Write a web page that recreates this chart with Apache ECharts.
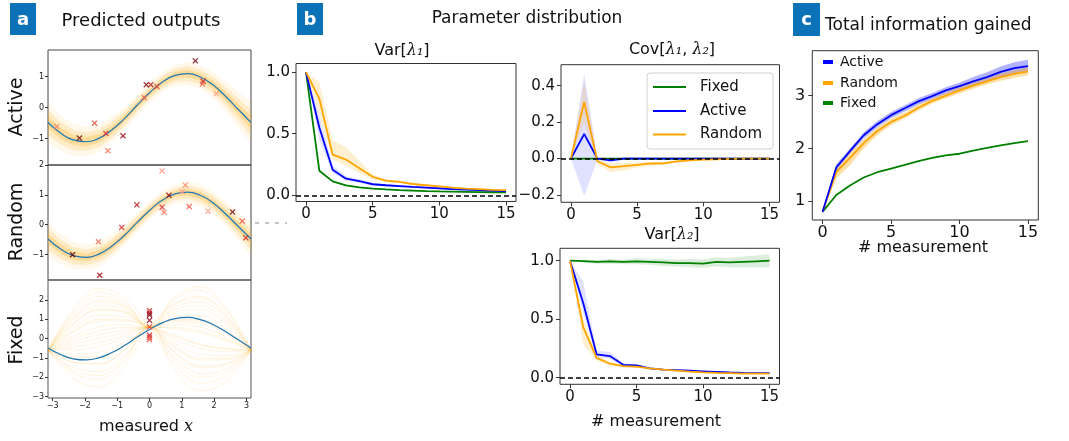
<!DOCTYPE html>
<html>
<head>
<meta charset="utf-8">
<script src="https://cdn.jsdelivr.net/npm/echarts@6/dist/echarts.min.js"></script>
<style>
  html, body { margin: 0; background: #fff; }
  #chart { width: 1069px; height: 441px; }
</style>
</head>
<body>
<div id="chart"></div>
<script>
// ---- panel a: predicted outputs ------------------------------------------
const curveX = [-3.1416, -2.75, -2.36, -1.96, -1.57, -1.18, -0.79, -0.39, 0, 0.39, 0.79, 1.18, 1.57, 1.96, 2.36, 2.75, 3.1416];
const trueY = [-0.48, -0.82, -1.04, -1.10, -0.99, -0.73, -0.37, 0.07, 0.48, 0.82, 1.04, 1.10, 0.99, 0.74, 0.36, -0.06, -0.48];
// half width of the posterior sample haze around the true curve
const activeSpread = [0.34, 0.3, 0.27, 0.25, 0.24, 0.22, 0.2, 0.18, 0.17, 0.17, 0.18, 0.2, 0.2, 0.22, 0.25, 0.3, 0.36];
const randomSpread = [0.3, 0.27, 0.24, 0.22, 0.22, 0.21, 0.19, 0.17, 0.16, 0.16, 0.17, 0.19, 0.2, 0.2, 0.22, 0.25, 0.3];

const fixedX = [-3.1416, -2.36, -1.57, -0.79, 0, 0.79, 1.57, 2.36, 3.1416];
const fixedSamples = [
  [-0.6, 1.54, 2.6, 2.14, 0.6, -1.33, -2.3, -1.93, -0.6],
  [-0.6, 1.03, 1.9, 1.63, 0.6, 2.07, 2.5, 1.47, -0.6],
  [-0.6, 0.54, 1.2, 1.14, 0.6, -0.76, -1.5, -1.36, -0.6],
  [-0.6, 0.12, 0.6, 0.72, 0.6, 1.0, 1.0, 0.41, -0.6],
  [-0.6, -0.58, -0.4, 0.02, 0.6, 0.51, 0.3, -0.09, -0.6],
  [-0.6, -1.0, -1.0, -0.4, 0.6, -0.26, -0.8, -0.87, -0.6],
  [-0.6, -1.49, -1.7, -0.89, 0.6, 1.49, 1.7, 0.89, -0.6],
  [-0.6, -2.05, -2.5, -1.45, 0.6, 1.84, 2.2, 1.24, -0.6],
  [-0.6, 1.24, 2.2, 1.84, 0.6, 0.58, 0.4, -0.02, -0.6],
  [-0.6, -0.16, 0.2, 0.44, 0.6, -1.61, -2.7, -2.21, -0.6],
  [-0.6, -1.77, -2.1, -1.17, 0.6, -0.48, -1.1, -1.08, -0.6],
  [-0.6, 0.4, 1.0, 1.0, 0.6, 1.64, 1.9, 1.04, -0.6],
  [-0.6, -0.3, 0.0, 0.3, 0.6, -0.05, -0.5, -0.65, -0.6],
  [-0.6, 1.38, 2.4, 1.98, 0.6, 1.15, 1.2, 0.54, -0.6],
  [-0.6, -1.21, -1.3, -0.62, 0.6, -1.11, -2.0, -1.71, -0.6],
  [-0.6, 0.75, 1.5, 1.4, 0.6, 0.2, -0.3, -0.5, -0.6],
  [-0.6, 0.76, 1.5, 1.36, 0.6, 0.87, 0.8, 0.27, -0.6],
  [-0.6, -0.79, -0.7, -0.19, 0.6, 1.78, 2.1, 1.19, -0.6],
  [-0.6, 0.34, 0.9, 0.93, 0.6, -0.41, -1.0, -1.01, -0.6],
  [-0.6, -1.21, -1.3, -0.62, 0.6, 0.72, 0.6, 0.12, -0.6],
  [-0.6, 1.11, 2.0, 1.71, 0.6, -0.97, -1.8, -1.57, -0.6],
  [-0.6, -0.44, -0.2, 0.16, 0.6, -0.69, -1.4, -1.29, -0.6],
  [-0.6, -0.02, 0.4, 0.58, 0.6, 2.21, 2.7, 1.61, -0.6],
  [-0.6, -1.64, -1.9, -1.03, 0.6, 0.09, -0.3, -0.51, -0.6],
  [-0.6, 0.9, 1.7, 1.5, 0.6, 1.36, 1.5, 0.76, -0.6],
  [-0.6, -0.93, -0.9, -0.34, 0.6, 0.94, 0.9, 0.34, -0.6]
];

// measured points: [x, y, order shade 0 (early, light) .. 1 (late, dark)]
const activePts = [
  [-2.87, -0.61, 0.15], [-2.17, -0.98, 0.95], [-1.70, -0.50, 0.4], [-1.35, -0.83, 0.5],
  [-1.29, -1.39, 0.2], [-0.82, -0.91, 0.85], [-0.16, 0.32, 0.3], [-0.10, 0.74, 0.9],
  [0.04, 0.74, 0.7], [0.23, 0.68, 0.45], [1.42, 1.51, 0.95], [1.66, 0.85, 0.65],
  [1.64, 0.76, 0.3], [2.07, 0.46, 0.05]
];
const randomPts = [
  [0.39, 1.81, 0.1], [1.11, 1.33, 0.12], [1.01, 1.11, 0.05], [0.60, 0.99, 0.85],
  [-0.39, 0.67, 0.7], [0.39, 0.59, 0.55], [0.45, 0.42, 0.2], [1.23, 0.61, 0.35],
  [1.81, 0.45, 0.05], [-0.86, -0.09, 0.55], [-1.58, -0.57, 0.25], [-2.38, -1.01, 1.0],
  [-1.54, -1.70, 0.8], [2.57, 0.43, 0.95], [2.87, 0.12, 0.35], [2.98, -0.44, 0.6]
];
const fixedPts = [
  [0, 1.45, 0.6], [0, 1.32, 0.8], [0, 1.22, 0.9], [0, 0.95, 0.85],
  [0, 0.62, 0.4], [0, 0.18, 0.7], [0, 0.06, 0.5], [0, -0.05, 0.35]
];

// ---- panel b: parameter distribution -------------------------------------
const steps = [0, 1, 2, 3, 4, 5, 6, 7, 8, 9, 10, 11, 12, 13, 14, 15];

const var1Fixed  = [1.0, 0.2, 0.113, 0.08, 0.065, 0.055, 0.048, 0.043, 0.039, 0.035, 0.032, 0.03, 0.028, 0.026, 0.025, 0.024];
const var1Active = [1.0, 0.55, 0.207, 0.135, 0.115, 0.09, 0.082, 0.075, 0.068, 0.062, 0.056, 0.05, 0.046, 0.042, 0.038, 0.035];
const var1Random = [1.0, 0.785, 0.33, 0.29, 0.22, 0.15, 0.12, 0.11, 0.092, 0.082, 0.072, 0.062, 0.055, 0.05, 0.045, 0.042];
const var1ActiveLo = [1.0, 0.45, 0.18, 0.12, 0.1, 0.08, 0.072, 0.066, 0.06, 0.054, 0.049, 0.044, 0.041, 0.037, 0.034, 0.031];
const var1ActiveHi = [1.0, 0.65, 0.245, 0.155, 0.13, 0.1, 0.092, 0.084, 0.076, 0.07, 0.063, 0.056, 0.051, 0.047, 0.043, 0.039];
const var1RandomLo = [1.0, 0.65, 0.29, 0.24, 0.18, 0.13, 0.105, 0.1, 0.085, 0.075, 0.065, 0.056, 0.05, 0.045, 0.04, 0.037];
const var1RandomHi = [1.0, 0.92, 0.45, 0.39, 0.28, 0.17, 0.13, 0.12, 0.1, 0.09, 0.08, 0.068, 0.06, 0.055, 0.05, 0.047];

const covFixed  = [0, 0, 0, 0, 0, 0, 0, 0, 0, 0, 0, 0, 0, 0, 0, 0];
const covActive = [0, 0.135, 0.0, -0.01, 0.0, 0, 0, 0, 0, 0, 0, 0, 0, 0, 0, 0];
const covRandom = [0, 0.31, -0.015, -0.048, -0.042, -0.035, -0.027, -0.026, -0.015, -0.01, -0.006, -0.004, -0.002, 0, 0, 0];
const covActiveLo = [0, -0.205, -0.006, -0.02, -0.008, -0.005, -0.004, -0.003, -0.002, -0.002, -0.001, -0.001, -0.001, 0, 0, 0];
const covActiveHi = [0, 0.465, 0.006, 0.004, 0.006, 0.005, 0.004, 0.003, 0.002, 0.002, 0.001, 0.001, 0.001, 0, 0, 0];
const covRandomLo = [0, 0.2, -0.03, -0.075, -0.065, -0.05, -0.04, -0.035, -0.022, -0.015, -0.01, -0.007, -0.004, -0.002, -0.001, -0.001];
const covRandomHi = [0, 0.42, -0.005, -0.025, -0.025, -0.022, -0.017, -0.017, -0.008, -0.005, -0.002, -0.001, 0, 0.001, 0.001, 0.001];

const var2Fixed  = [1.0, 0.997, 0.99, 0.995, 0.99, 0.995, 0.99, 0.985, 0.98, 0.98, 0.975, 0.99, 0.985, 0.99, 0.995, 1.0];
const var2Active = [1.0, 0.636, 0.2, 0.185, 0.11, 0.105, 0.08, 0.07, 0.065, 0.06, 0.055, 0.05, 0.045, 0.042, 0.04, 0.04];
const var2Random = [1.0, 0.43, 0.17, 0.12, 0.1, 0.095, 0.08, 0.07, 0.06, 0.052, 0.046, 0.042, 0.04, 0.036, 0.035, 0.035];
const var2FixedLo  = [1.0, 0.985, 0.975, 0.975, 0.97, 0.97, 0.965, 0.955, 0.95, 0.945, 0.94, 0.95, 0.945, 0.945, 0.945, 0.945];
const var2FixedHi  = [1.0, 1.01, 1.005, 1.015, 1.01, 1.02, 1.015, 1.015, 1.01, 1.015, 1.01, 1.03, 1.025, 1.035, 1.045, 1.055];
const var2ActiveLo = [1.0, 0.55, 0.18, 0.16, 0.1, 0.095, 0.075, 0.065, 0.06, 0.055, 0.05, 0.046, 0.042, 0.039, 0.037, 0.037];
const var2ActiveHi = [1.0, 0.82, 0.23, 0.22, 0.125, 0.115, 0.088, 0.077, 0.07, 0.065, 0.06, 0.055, 0.05, 0.046, 0.044, 0.044];
const var2RandomLo = [1.0, 0.28, 0.15, 0.105, 0.09, 0.085, 0.072, 0.063, 0.055, 0.047, 0.042, 0.038, 0.036, 0.033, 0.032, 0.032];
const var2RandomHi = [1.0, 0.5, 0.2, 0.135, 0.11, 0.105, 0.088, 0.077, 0.066, 0.057, 0.05, 0.046, 0.044, 0.04, 0.038, 0.038];

// ---- panel c: total information gained -----------------------------------
const infoActive = [0.8, 1.64, 1.95, 2.25, 2.46, 2.63, 2.76, 2.89, 2.99, 3.1, 3.18, 3.27, 3.35, 3.45, 3.52, 3.56];
const infoRandom = [0.8, 1.55, 1.82, 2.1, 2.33, 2.5, 2.62, 2.77, 2.9, 3.0, 3.1, 3.19, 3.27, 3.35, 3.41, 3.46];
const infoFixed  = [0.8, 1.12, 1.3, 1.45, 1.55, 1.62, 1.69, 1.76, 1.82, 1.87, 1.9, 1.96, 2.01, 2.06, 2.1, 2.14];
const infoActiveLo = [0.8, 1.58, 1.9, 2.19, 2.4, 2.57, 2.7, 2.83, 2.93, 3.03, 3.11, 3.19, 3.26, 3.35, 3.41, 3.44];
const infoActiveHi = [0.8, 1.7, 2.0, 2.3, 2.52, 2.69, 2.82, 2.95, 3.05, 3.16, 3.25, 3.35, 3.44, 3.55, 3.63, 3.68];
const infoRandomLo = [0.8, 1.43, 1.68, 2.0, 2.25, 2.44, 2.57, 2.72, 2.85, 2.95, 3.04, 3.13, 3.21, 3.28, 3.34, 3.38];
const infoRandomHi = [0.8, 1.62, 1.92, 2.18, 2.4, 2.56, 2.68, 2.83, 2.95, 3.06, 3.16, 3.25, 3.33, 3.42, 3.48, 3.54];

const ticksA1 = [-1, 0, 1];
const ticksA2 = [-1, 0, 1, 2];
const ticksA3 = [-3, -2, -1, 0, 1, 2];
const ticksAx = [-3, -2, -1, 0, 1, 2, 3];
const ticksStep = [0, 5, 10, 15];
const ticksVar = [0, 0.5, 1];
const ticksCov = [-0.2, 0, 0.2, 0.4];
const ticksInfo = [1, 2, 3];

// ---------------------------------------------------------------------------
const FONT = 'DejaVu Sans';
const GREEN = '#008000', BLUE = '#0000ff', ORANGE = '#ffa500', TRUE_C = '#1f77b4';
const BOX = '#0b72b8';
const REDS = ['#fcaa96', '#fb7b5e', '#f5553c', '#e0302a', '#c0161c', '#99000d', '#5a000a'];

const chart = echarts.init(document.getElementById('chart'), null, { renderer: 'canvas' });

const minus = (s) => String(s).replace('-', '\u2212');

function grid(left, top, width, height, border) {
  return { left, top, width, height, show: true, borderColor: border || '#333', borderWidth: 1, backgroundColor: 'transparent', containLabel: false };
}

function axis(gridIndex, min, max, ticks, opts) {
  const o = opts || {};
  return {
    type: 'value', gridIndex, min, max,
    axisLine: { show: false, onZero: false },
    splitLine: { show: false },
    axisTick: { show: o.show !== false, length: o.tick || 4, customValues: ticks, lineStyle: { color: '#333', width: 1 } },
    axisLabel: {
      show: o.show !== false, customValues: ticks, fontFamily: FONT, fontSize: o.size || 15,
      color: o.color || '#111', margin: o.margin || 6,
      formatter: o.fmt || ((v) => minus(v))
    }
  };
}

function shade(t) {
  const p = Math.max(0, Math.min(1, t)) * (REDS.length - 1);
  const i = Math.min(REDS.length - 2, Math.floor(p));
  const f = p - i;
  const a = echarts.color.parse(REDS[i]), b = echarts.color.parse(REDS[i + 1]);
  return `rgb(${Math.round(a[0] + (b[0] - a[0]) * f)},${Math.round(a[1] + (b[1] - a[1]) * f)},${Math.round(a[2] + (b[2] - a[2]) * f)})`;
}

function line(g, xs, ys, color, width, extra) {
  return Object.assign({
    type: 'line', xAxisIndex: g, yAxisIndex: g,
    data: xs.map((x, i) => [x, ys[i]]),
    symbol: 'none', showSymbol: false, silent: true,
    lineStyle: { color, width }, itemStyle: { color }, z: 3
  }, extra || {});
}

function band(g, xs, lo, hi, color, opacity) {
  return {
    type: 'custom', xAxisIndex: g, yAxisIndex: g, data: [[xs[0], lo[0]]], clip: true, silent: true, z: 1,
    renderItem: (params, api) => {
      const top = xs.map((x, i) => api.coord([x, hi[i]]));
      const bottom = xs.map((x, i) => api.coord([x, lo[i]])).reverse();
      return { type: 'polygon', shape: { points: top.concat(bottom) }, style: { fill: color, opacity } };
    }
  };
}

function zeroLine() {
  return {
    silent: true, symbol: 'none', animation: false,
    label: { show: false },
    lineStyle: { type: [5, 3], color: '#000', width: 1.5 },
    data: [{ yAxis: 0 }]
  };
}

const XMARK = 'path://M0,1.5L1.5,0L5,3.5L8.5,0L10,1.5L6.5,5L10,8.5L8.5,10L5,6.5L1.5,10L0,8.5L3.5,5Z';
function points(g, pts) {
  return {
    type: 'scatter', xAxisIndex: g, yAxisIndex: g, data: pts, symbol: XMARK, symbolSize: 6, z: 5, silent: true,
    itemStyle: { color: (p) => shade(p.value[2]) }
  };
}

const series = [];

// panel a bands / samples
const upper = (c, s, k) => c.map((v, i) => v + s[i] * k);
const lower = (c, s, k) => c.map((v, i) => v - s[i] * k);
[[0, activeSpread], [1, randomSpread]].forEach(([g, spread]) => {
  series.push(band(g, curveX, lower(trueY, spread, 1.9), upper(trueY, spread, 1.9), ORANGE, 0.08));
  series.push(band(g, curveX, lower(trueY, spread, 1.2), upper(trueY, spread, 1.2), ORANGE, 0.16));
  series.push(band(g, curveX, lower(trueY, spread, 0.6), upper(trueY, spread, 0.6), ORANGE, 0.22));
});
fixedSamples.forEach((s) => {
  series.push(line(2, fixedX, s, ORANGE, 1, { smooth: 0.4, lineStyle: { color: ORANGE, width: 1, opacity: 0.13 }, z: 2 }));
});
[0, 1, 2].forEach((g) => series.push(line(g, curveX, trueY, TRUE_C, 1.2, { smooth: true, z: 4 })));
series.push(points(0, activePts), points(1, randomPts), points(2, fixedPts));

// panel b
series.push(band(3, steps, var1Fixed.map(v => v - 0.006), var1Fixed.map(v => v + 0.006), GREEN, 0.15));
series.push(band(3, steps, var1ActiveLo, var1ActiveHi, BLUE, 0.12));
series.push(band(3, steps, var1RandomLo, var1RandomHi, ORANGE, 0.18));
series.push(line(3, steps, var1Fixed, GREEN, 1.8));
series.push(line(3, steps, var1Active, BLUE, 1.8));
series.push(line(3, steps, var1Random, ORANGE, 1.8, { markLine: zeroLine() }));

series.push(band(4, steps, covActiveLo, covActiveHi, BLUE, 0.12));
series.push(band(4, steps, covRandomLo, covRandomHi, ORANGE, 0.18));
series.push(line(4, steps, covFixed, GREEN, 1.8));
series.push(line(4, steps, covActive, BLUE, 1.8));
series.push(line(4, steps, covRandom, ORANGE, 1.8, { markLine: zeroLine() }));

series.push(band(5, steps, var2FixedLo, var2FixedHi, GREEN, 0.14));
series.push(band(5, steps, var2ActiveLo, var2ActiveHi, BLUE, 0.12));
series.push(band(5, steps, var2RandomLo, var2RandomHi, ORANGE, 0.18));
series.push(line(5, steps, var2Fixed, GREEN, 1.8));
series.push(line(5, steps, var2Active, BLUE, 1.8));
series.push(line(5, steps, var2Random, ORANGE, 1.8, { markLine: zeroLine() }));

// panel c
series.push(band(6, steps, infoActiveLo, infoActiveHi, BLUE, 0.3));
series.push(band(6, steps, infoRandomLo, infoRandomHi, ORANGE, 0.35));
series.push(line(6, steps, infoFixed, GREEN, 1.8));
series.push(line(6, steps, infoRandom, ORANGE, 1.8));
series.push(line(6, steps, infoActive, BLUE, 1.8));

const small = { size: 8, color: '#222', margin: 4, tick: 3 };
const fmt1 = (v) => minus(v.toFixed(1));

const text = (x, y, str, size, extra) => ({
  type: 'text', x, y, silent: true,
  style: Object.assign({ text: str, fontFamily: FONT, fontSize: size, fill: '#111', align: 'center', verticalAlign: 'middle' }, extra || {})
});
const rotated = (x, y, str, size) => Object.assign(text(x, y, str, size), { rotation: Math.PI / 2 });
const labelBox = (x, y, w, h, letter) => ({
  type: 'group', silent: true, children: [
    { type: 'rect', shape: { x, y, width: w, height: h }, style: { fill: BOX } },
    { type: 'text', x: x + w / 2, y: y + h / 2 + 1, style: { text: letter, fill: '#fff', fontFamily: FONT, fontWeight: 'bold', fontSize: 18, align: 'center', verticalAlign: 'middle' } }
  ]
});
const mathRich = {
  n: { fontFamily: FONT, fontSize: 16, fill: '#111' },
  m: { fontFamily: 'DejaVu Serif', fontStyle: 'italic', fontSize: 16, fill: '#111' }
};
const legendRow = (x, y, color, label, kind) => [
  kind === 'patch'
    ? { type: 'rect', shape: { x, y: y - 2, width: 10, height: 4 }, style: { fill: color } }
    : { type: 'line', shape: { x1: x, y1: y, x2: x + 33, y2: y }, style: { stroke: color, lineWidth: 2 } },
  { type: 'text', x: kind === 'patch' ? x + 17 : x + 47, y, style: { text: label, fontFamily: FONT, fontSize: kind === 'patch' ? 14 : 15, fill: '#111', verticalAlign: 'middle' } }
];

chart.setOption({
  animation: false,
  backgroundColor: '#fff',
  grid: [
    grid(48, 50, 203, 115, '#444'),
    grid(48, 165, 203, 115, '#444'),
    grid(48, 280, 203, 118, '#555'),
    grid(296, 63.5, 220, 138),
    grid(561, 64.7, 218.5, 137.6),
    grid(560, 248.3, 219.5, 136),
    grid(812.3, 50.7, 226, 169.3)
  ],
  xAxis: [
    axis(0, -3.1416, 3.1416, ticksAx, { show: false }),
    axis(1, -3.1416, 3.1416, ticksAx, { show: false }),
    axis(2, -3.1416, 3.1416, ticksAx, small),
    axis(3, -0.75, 15.75, ticksStep, { margin: 5 }),
    axis(4, -0.75, 15.75, ticksStep, { margin: 5 }),
    axis(5, -0.75, 15.75, ticksStep, { margin: 5 }),
    axis(6, -0.75, 15.75, ticksStep, { margin: 5, size: 16 })
  ],
  yAxis: [
    axis(0, -1.85, 1.86, ticksA1, small),
    axis(1, -1.86, 2.01, ticksA2, small),
    axis(2, -3.07, 3.04, ticksA3, small),
    axis(3, -0.05, 1.07, ticksVar, { fmt: fmt1, margin: 6 }),
    axis(4, -0.24, 0.515, ticksCov, { fmt: fmt1, margin: 6 }),
    axis(5, -0.056, 1.106, ticksVar, { fmt: fmt1, margin: 6 }),
    axis(6, 0.646, 3.85, ticksInfo, { margin: 7, size: 16 })
  ],
  series,
  graphic: [
    labelBox(10, 3, 26, 32, 'a'),
    labelBox(297, 3, 26, 32, 'b'),
    labelBox(793, 3, 27, 33, 'c'),
    text(141, 21, 'Predicted outputs', 18),
    text(527, 19, 'Parameter distribution', 17),
    text(825, 26, 'Total information gained', 17, { align: 'left' }),
    rotated(17, 107, 'Active', 19),
    rotated(17, 222, 'Random', 19),
    rotated(17, 340, 'Fixed', 19),
    text(146, 427, '{n|measured }{m|x}', 16, { rich: mathRich }),
    text(402, 51, '{n|Var[}{m|λ₁}{n|]}', 16, { rich: mathRich }),
    text(672, 50, '{n|Cov[}{m|λ₁}{n|, }{m|λ₂}{n|]}', 16, { rich: mathRich }),
    text(672, 235, '{n|Var[}{m|λ₂}{n|]}', 16, { rich: mathRich }),
    text(656, 422, '# measurement', 16),
    text(923, 248, '# measurement', 16),
    { type: 'line', silent: true, shape: { x1: 255, y1: 223, x2: 287, y2: 223 }, style: { stroke: '#888', lineWidth: 1, lineDash: [4, 6] } },
    {
      type: 'group', silent: true, children: [
        { type: 'rect', shape: { x: 647, y: 73, width: 126, height: 76, r: 3 }, style: { fill: 'rgba(255,255,255,0.85)', stroke: '#d0d0d0', lineWidth: 1 } }
      ].concat(legendRow(653, 87, GREEN, 'Fixed'), legendRow(653, 111, BLUE, 'Active'), legendRow(653, 134.5, ORANGE, 'Random'))
    },
    {
      type: 'group', silent: true,
      children: [].concat(legendRow(823, 62, BLUE, 'Active', 'patch'), legendRow(823, 83, ORANGE, 'Random', 'patch'), legendRow(823, 103, GREEN, 'Fixed', 'patch'))
    }
  ]
});
</script>
</body>
</html>
